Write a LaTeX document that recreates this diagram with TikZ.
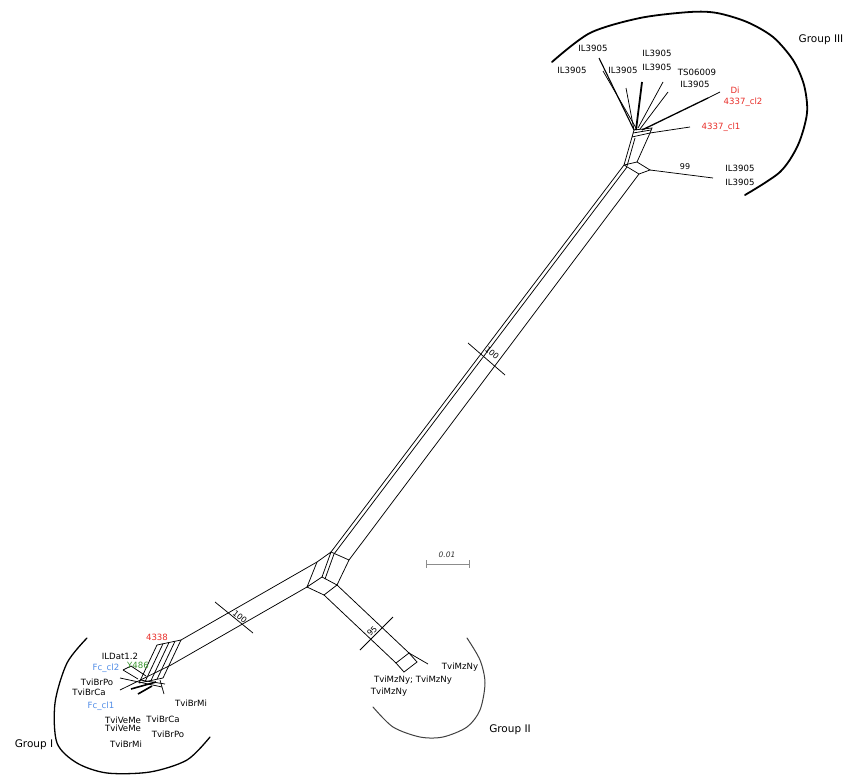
\documentclass[tikz,border=0pt]{standalone}
\usepackage{fontspec}
\setmainfont{DejaVu Sans}
\usetikzlibrary{calc}
\definecolor{lred}{RGB}{232,45,40}
\definecolor{lblue}{RGB}{80,140,230}
\definecolor{lgreen}{RGB}{60,150,50}
\definecolor{sgray}{RGB}{140,140,140}
\begin{document}
\begin{tikzpicture}[x=1pt,y=-1pt,
  net/.style={line width=0.75pt,black},
  thick net/.style={line width=1.6pt,black},
  lab/.style={font=\fontsize{8.6}{10}\selectfont,inner sep=0pt},
  grp/.style={font=\fontsize{10.5}{12}\selectfont,inner sep=0pt},
  conf/.style={font=\fontsize{8}{9}\selectfont,inner sep=0pt}]
\useasboundingbox (0,0) rectangle (845,778);
% ---- central junction
\coordinate (A) at (317,562);
\coordinate (B) at (331,552);
\coordinate (C) at (349,560);
\coordinate (D) at (337,585);
\coordinate (E) at (322,577);
\coordinate (F) at (307,587);
\coordinate (G) at (324,595);
% ---- group III junction
\coordinate (V1) at (624,165);
\coordinate (V2) at (637,162);
\coordinate (V3) at (650,170);
\coordinate (V4) at (639,174);
\coordinate (U1) at (632,137);
\coordinate (U2) at (650,133);
% ---- long band
\draw[net] (B) -- (V1);
\draw[net] ($(B)+(3,2)$) -- ($(V1)+(3,2)$);
\draw[net] (C) -- (V4);
% central parallelograms
\draw[net] (A) -- (B) -- (C) -- (D) -- (E) -- (B);
\draw[net] ($(B)+(3,2)$) -- ($(E)+(3,2)$);
\draw[net] (A) -- (F) -- (E);
\draw[net] (F) -- (G) -- (D);
% group III boxes
\draw[net] (V1) -- (V2) -- (V3) -- (V4) -- (V1);
\draw[net] (V1) -- (U1);
\draw[net] ($(V1)+(3,1)$) -- ($(U1)+(3,1)$);
\draw[net] (V2) -- (U2);
\draw[net] (U1) -- (U2) -- (652,128) -- (634,130) -- (U1);
\draw[net] (633,133) -- (651,130);
\coordinate (L99) at (713,178);
\draw[net] (V3) -- (L99);
% group III pendant edges
\draw[net,line width=1.1pt] (634,130) -- (599,58);
\draw[net] (636,128) -- (603,71);
\draw[net] (634,130) -- (626,88);
\draw[thick net,line width=1.8pt] (636,130) -- (642,82);
\draw[net] (638,128) -- (663,82);
\draw[net] (640,129) -- (668,92);
\draw[net,line width=1.3pt] (642,130) -- (708,98);
\draw[net] (708,98) -- (720,92);
\draw[net] (650,133) -- (690,127);
% ---- group II band
\coordinate (X1) at (396,663);
\coordinate (X2) at (409,653);
\coordinate (X3) at (404,672);
\coordinate (X4) at (417,662);
\draw[net] (G) -- (X1);
\draw[net] (D) -- (X2);
\draw[net] (X1) -- (X2) -- (X4) -- (X3) -- (X1);
\draw[net] (X2) -- (428,664);
% ---- group I band
\coordinate (T1) at (181,640);
\coordinate (T0) at (157,645);
\coordinate (T2) at (171,665);
\draw[net] (A) -- (T1);
\draw[net] (F) -- (T2) -- (120,690);
\draw[net] (T1) -- (T0);
\foreach \k in {0,1,2,3,4} {
  \draw[net] ($(T1)!\k/4!(T0)$) -- ++(-18,38);
}
\draw[net] (163,678) -- (139,683);
\draw[net] (120,678) -- (162,687);
\draw[thick net] (131,689) -- (156,682);
\draw[thick net] (138,694) -- (152,686);
\draw[net] (140,680) -- (165,684);
\draw[net] (160,680) -- (164,694);
\draw[net] (123,670) -- (131,666) -- (146,676);
\draw[net] (123,670) -- (138,679);
% ---- bootstrap cross marks
\draw[net] (468,343) -- (505,375);
\node[conf,rotate=-41] (c100a) at (492,353) {100};
\draw[net] (215,602) -- (253,633);
\node[conf,rotate=-39] (c100b) at (240,617) {100};
\draw[net] (393,617) -- (360,650);
\node[conf,rotate=44] (c95) at (372,631) {95};
\node[conf] (c99) at (685,167) {99};
% ---- scale bar
\draw[sgray,line width=1pt] (426,564) -- (469,564);
\draw[sgray,line width=1pt] (426,560) -- (426,568);
\draw[sgray,line width=1pt] (469,560) -- (469,568);
\node[conf,font=\fontsize{7.5}{9}\selectfont\itshape,text=black!80] (sc) at (447,555) {0.01};
% ---- group arcs
\draw[line width=1.8pt,line cap=round] plot[smooth] coordinates {(552,62) (590,33) (640,18) (690,12) (717,13) (747,22) (773,37) (793,60) (804,85) (807,113) (798,145) (780,172) (745,195)};
\draw[line width=1.3pt,line cap=round] plot[smooth] coordinates {(87,638) (67,663) (55,703) (57,743) (77,763) (107,773) (150,772) (187,760) (210,737)};
\draw[line width=1pt,black!75,line cap=round] plot[smooth] coordinates {(467,638) (480,660) (485,683) (480,710) (467,727) (443,737) (420,737) (393,727) (373,707)};
% ---- group III labels
\node[lab] (t1) at (593,48) {IL3905};
\node[lab] (t2) at (572,70) {IL3905};
\node[lab] (t3) at (623,70) {IL3905};
\node[lab] (t4) at (657,53) {IL3905};
\node[lab] (t5) at (657,67) {IL3905};
\node[lab] (t6) at (697,72) {TS06009};
\node[lab] (t7) at (695,84) {IL3905};
\node[lab,text=lred] (t8) at (735,90) {Di};
\node[lab,text=lred] (t9) at (743,102) {4337\_cl2};
\node[lab,text=lred] (t10) at (721,127) {4337\_cl1};
\node[lab] (t11) at (740,168) {IL3905};
\node[lab] (t12) at (740,182) {IL3905};
\node[grp] (g3) at (821,40) {Group III};
% ---- group I labels
\node[lab,text=lred] (b1) at (157,637) {4338};
\node[lab] (b2) at (120,656) {ILDat1.2};
\node[lab,text=lblue] (b3) at (106,668) {Fc\_cl2};
\node[lab,text=lgreen] (b4) at (138,665) {Y486};
\node[lab] (b5) at (97,682) {TviBrPo};
\node[lab] (b6) at (89,692) {TviBrCa};
\node[lab,text=lblue] (b7) at (101,706) {Fc\_cl1};
\node[lab] (b8) at (191,703) {TviBrMi};
\node[lab] (b9) at (123,720) {TviVeMe};
\node[lab] (b10) at (123,728) {TviVeMe};
\node[lab] (b11) at (163,719) {TviBrCa};
\node[lab] (b12) at (168,734) {TviBrPo};
\node[lab] (b13) at (126,744) {TviBrMi};
\node[grp] (g1) at (34,745) {Group I};
% ---- group II labels
\node[lab] (m1) at (460,667) {TviMzNy};
\node[lab] (m2) at (413,680) {TviMzNy; TviMzNy};
\node[lab] (m3) at (389,692) {TviMzNy};
\node[grp] (g2) at (510,730) {Group II};
\end{tikzpicture}
\end{document}
